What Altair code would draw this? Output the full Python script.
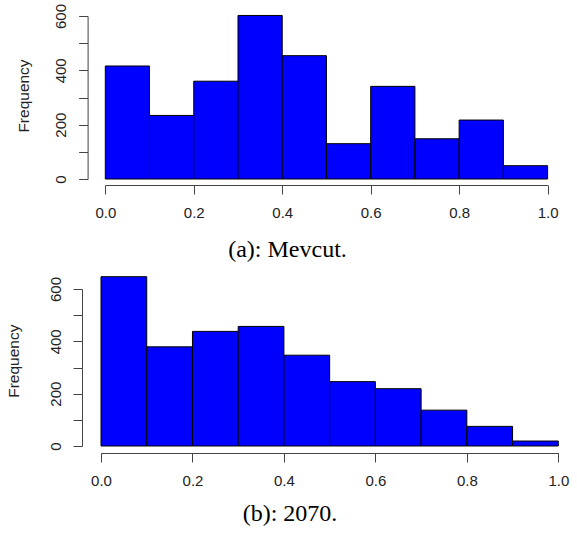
import altair as alt
import pandas as pd

bin_starts = [0.0, 0.1, 0.2, 0.3, 0.4, 0.5, 0.6, 0.7, 0.8, 0.9]
bin_ends = [0.1, 0.2, 0.3, 0.4, 0.5, 0.6, 0.7, 0.8, 0.9, 1.0]
counts_a = [416, 234, 360, 602, 454, 130, 341, 148, 217, 49]
counts_b = [647, 379, 438, 457, 347, 246, 219, 137, 75, 19]
x_ticks = [0.0, 0.2, 0.4, 0.6, 0.8, 1.0]
y_ticks = [0, 100, 200, 300, 400, 500, 600]
title_a = "(a): Mevcut."
title_b = "(b): 2070."

SANS = "Liberation Sans"
SERIF = "Liberation Serif"
AXC = "#444444"
TXT = "#222222"


def panel(counts, title, width, xrange, height, yoff, xoff, ttx, tty, toff, tdx):
    df = pd.DataFrame({"start": bin_starts, "end": bin_ends, "count": counts})
    return alt.Chart(df, title=alt.TitleParams(
        title, orient="bottom", anchor="middle", font=SERIF, fontSize=24,
        fontWeight="normal", color="black", offset=toff, dx=tdx,
    )).mark_bar(
        fill="#0000FF", stroke="black", strokeWidth=1, clip=False
    ).encode(
        x=alt.X("start:Q", scale=alt.Scale(domain=[0, 1], range=xrange, nice=False, zero=False),
                axis=alt.Axis(values=x_ticks, format=".1f", title=None, grid=False,
                              offset=xoff, tickSize=9, labelPadding=11,
                              labelFont=SANS, labelFontSize=15, labelColor=TXT,
                              domainColor=AXC, tickColor=AXC, labelFlush=False)),
        x2="end:Q",
        y=alt.Y("count:Q", scale=alt.Scale(domain=[0, 600], nice=False),
                axis=alt.Axis(values=y_ticks, title="Frequency", grid=False,
                              labelExpr="datum.value % 200 == 0 ? datum.label : ''",
                              offset=yoff, tickSize=9, labelPadding=13,
                              labelAngle=270, labelAlign="center", labelBaseline="alphabetic",
                              labelFont=SANS, labelFontSize=15, labelColor=TXT,
                              domainColor=AXC, tickColor=AXC, labelFlush=False,
                              titleFont=SANS, titleFontSize=15.5, titleFontWeight="normal",
                              titleColor=TXT, titleAngle=270, titleAlign="center",
                              titleBaseline="alphabetic", titleX=ttx, titleY=tty)),
        y2=alt.datum(0),
    ).properties(width=width, height=height)


top = panel(counts_a, title_a, 447, [4.3, 446.6], 163, 13.4, 6, -59.5, 79.5, 18, -37)
bot = panel(counts_b, title_b, 458, [0, 457.3], 157, 19, 7, -63.7, 71.7, 14, -40)

chart = alt.vconcat(top, bot, spacing=14).properties(
    padding={"left": 6, "top": 3, "right": 5, "bottom": 5},
    background="white",
).configure_view(stroke=None)

chart.save("out.html", embed_options={"renderer": "svg", "actions": False})
